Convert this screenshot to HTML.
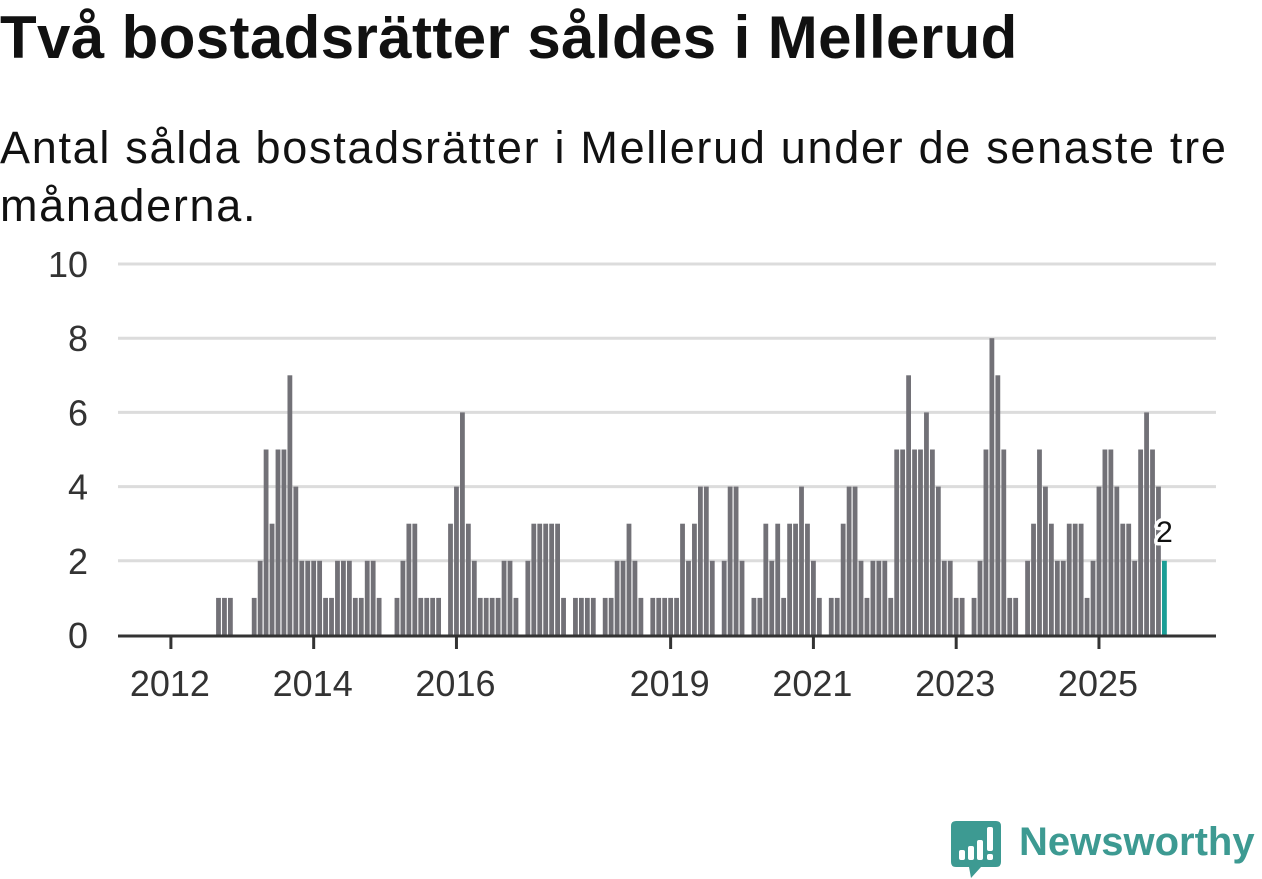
<!DOCTYPE html>
<html><head><meta charset="utf-8">
<style>
html,body{margin:0;padding:0;background:#fff;width:1262px;height:879px;overflow:hidden;}
body{font-family:"Liberation Sans","DejaVu Sans",sans-serif;color:#111;position:relative;}
#title{position:absolute;left:0;top:0px;font-size:60px;font-weight:bold;letter-spacing:0.4px;margin:0;white-space:nowrap;color:#111;line-height:76px;}
#subtitle{position:absolute;left:0;top:119px;font-size:45px;letter-spacing:1.7px;line-height:58px;width:1245px;margin:0;color:#111;}
svg{position:absolute;left:0;top:0;}
</style></head><body>
<h1 id="title">Två bostadsrätter såldes i Mellerud</h1>
<p id="subtitle">Antal sålda bostadsrätter i Mellerud under de senaste tre månaderna.</p>
<svg id="chart" width="1262" height="879"></svg>
<script>
const startYear = 2012;
const values2012 = [0,0,0,0,0,0,0,0,1,1,1,0];
const values2013 = [0,0,1,2,5,3,5,5,7,4,2,2];
const values2014 = [2,2,1,1,2,2,2,1,1,2,2,1];
const values2015 = [0,0,1,2,3,3,1,1,1,1,0,3];
const values2016 = [4,6,3,2,1,1,1,1,2,2,1,0];
const values2017 = [2,3,3,3,3,3,1,0,1,1,1,1];
const values2018 = [0,1,1,2,2,3,2,1,0,1,1,1];
const values2019 = [1,1,3,2,3,4,4,2,0,2,4,4];
const values2020 = [2,0,1,1,3,2,3,1,3,3,4,3];
const values2021 = [2,1,0,1,1,3,4,4,2,1,2,2];
const values2022 = [2,1,5,5,7,5,5,6,5,4,2,2];
const values2023 = [1,1,0,1,2,5,8,7,5,1,1,0];
const values2024 = [2,3,5,4,3,2,2,3,3,3,1,2];
const values2025 = [4,5,5,4,3,3,2,5,6,5,4,2];
const yTicks = [0,2,4,6,8,10];
const xTickYears = [2012,2014,2016,2019,2021,2023,2025];

const values = [].concat(values2012,values2013,values2014,values2015,values2016,values2017,values2018,values2019,values2020,values2021,values2022,values2023,values2024,values2025);
const NS="http://www.w3.org/2000/svg";
const svg=document.getElementById('chart');
const x0=118,x1=1216,y0=635,yTop=264;
function xScale(t){return 170.9+(t-2012)*71.39;}
function yScale(v){return y0-(v/10)*(y0-yTop);}
function mk(tag,attrs){const e=document.createElementNS(NS,tag);for(const k in attrs)e.setAttribute(k,attrs[k]);svg.appendChild(e);return e;}

yTicks.forEach(v=>{
  if(v>0){const g=mk('line',{x1:x0,x2:x1,y1:yScale(v),y2:yScale(v),stroke:'#dcdcdc','stroke-width':3});
  
  }
  const t=mk('text',{x:88,y:yScale(v)+13,'text-anchor':'end','font-size':36,fill:'#333','font-family':'Liberation Sans, sans-serif'});
  t.textContent=v;
  
  
});

const bw=4.8;
values.forEach((v,i)=>{
  if(v<=0)return;
  const t=startYear+i/12;
  const cx=xScale(t);
  const last=i===values.length-1;
  const r=mk('rect',{x:cx-bw/2,y:yScale(v),width:bw,height:y0-yScale(v),fill:last?'#1a9e96':'#727177'});
  
  
});

const ax=mk('line',{x1:x0,x2:x1,y1:y0+1,y2:y0+1,stroke:'#333','stroke-width':3});



xTickYears.forEach(yr=>{
  const x=xScale(yr);
  const tk=mk('line',{x1:x,x2:x,y1:y0,y2:y0+14,stroke:'#333','stroke-width':3});
  
  
  const t=mk('text',{x:x-1,y:696,'text-anchor':'middle','font-size':36,fill:'#333','font-family':'Liberation Sans, sans-serif'});
  t.textContent=yr;
  
  
});

const lastIdx=values.length-1;
const lx=xScale(startYear+lastIdx/12), ly=yScale(values[lastIdx])-19;
const lab=mk('text',{x:lx,y:ly,'text-anchor':'middle','font-size':30,fill:'#111',stroke:'#fff','stroke-width':7,'paint-order':'stroke','stroke-linejoin':'round','font-family':'Liberation Sans, sans-serif'});
lab.textContent=values[lastIdx];


</script>
<svg width="70" height="62" style="left:950px;top:818px;">
  <path d="M6 3 H46 Q51 3 51 8 V44 Q51 49 46 49 H31 L21 60 L19 49 H6 Q1 49 1 44 V8 Q1 3 6 3 Z" fill="#3d9a92"/>
  <rect x="9" y="32" width="6" height="10" rx="2" fill="#fff"/>
  <rect x="18" y="28" width="6" height="14" rx="2" fill="#fff"/>
  <rect x="27" y="22" width="6" height="20" rx="2" fill="#fff"/>
  <rect x="37" y="9" width="6" height="24" rx="2" fill="#fff"/>
  <rect x="37" y="36" width="6" height="6" rx="2" fill="#fff"/>
</svg>
<div style="position:absolute;left:1019px;top:820px;font-size:40px;font-weight:bold;color:#3d9a92;font-family:'Liberation Sans',sans-serif;letter-spacing:0px;">Newsworthy</div>
</body></html>
